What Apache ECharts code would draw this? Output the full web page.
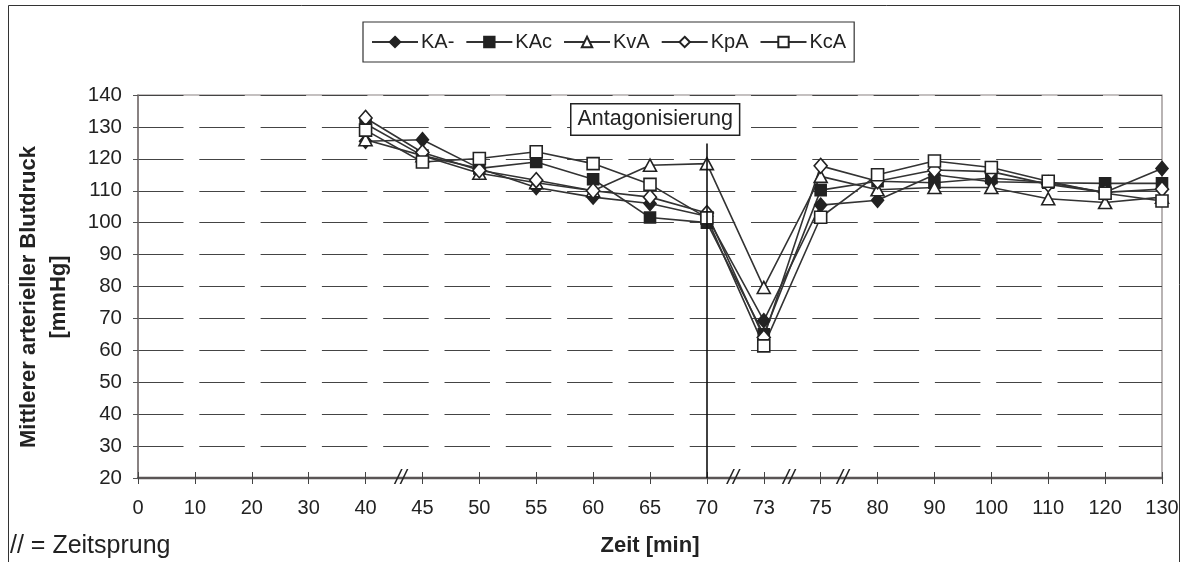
<!DOCTYPE html>
<html><head><meta charset="utf-8">
<script src="https://cdn.jsdelivr.net/npm/echarts@6/dist/echarts.min.js"></script>
<style>html,body{margin:0;padding:0;background:#fff}#c{width:1188px;height:562px}</style>
</head><body><div id="c"></div>
<script>
var categories = ['0','10','20','30','40','45','50','55','60','65','70','73','75','80','90','100','110','120','130'];
var yTicks = {min: 20, max: 140, interval: 10};
var KA_minus = [null,null,null,null,125.5,126,117,111,108,106,102,69.3,105.5,107,115,112.8,112.5,109.5,117];
var KAc      = [null,null,null,null,131,121,117,119,113.6,101.6,100,65,110.2,113,112.5,114,112.5,112.3,112.3];
var KvA      = [null,null,null,null,126,121,115.5,112.5,110,118,118.5,79.7,114.5,110.3,111,111,107.5,106.3,108];
var KpA      = [null,null,null,null,132.8,122,116.4,113.3,110,108,103,64,117.8,113,116.5,116,112,109.5,110.5];
var KcA      = [null,null,null,null,129,119,120.1,122.2,118.5,112,101.5,61.4,101.7,115,119.3,117.3,113,109.2,106.8];
var seriesNames = ['KA-','KAc','KvA','KpA','KcA'];
var breakAfter = [4,10,11,12];          // category index after which a time jump "//" is drawn
var breakFrac  = [0.62,0.46,0.44,0.39];
var markerX = '70';
var yTitle = 'Mittlerer arterieller Blutdruck\n[mmHg]';

var FONT = 'Liberation Sans, Arial, sans-serif';
var INK = '#222';
function ser(name, data, symbol, size, filled) {
  return {
    name: name, type: 'line', data: data, symbol: symbol, symbolSize: size,
    showSymbol: true, connectNulls: false,
    lineStyle: {color: '#333', width: 1.6},
    itemStyle: {color: filled ? INK : '#fff', borderColor: INK, borderWidth: 1.6},
    emphasis: {disabled: true}, animation: false, z: 3
  };
}
var chart = echarts.init(document.getElementById('c'), null, {renderer: 'canvas'});
var s0 = ser('KA-', KA_minus, 'diamond', [12,14], true);
s0.markLine = {
  silent: true, symbol: ['none','none'], animation: false,
  lineStyle: {color: '#111', width: 1.6, type: 'solid'}, label: {show: false},
  data: [[{coord: [markerX, 20]}, {coord: [markerX, 124.8]}]]
};
var option = {
  animation: false,
  backgroundColor: '#fff',
  grid: {left: 138, right: 26, top: 95, bottom: 81, show: true, borderColor: '#8a8282', borderWidth: 1.2, backgroundColor: 'transparent'},
  legend: {
    left: 363, top: 22, data: seriesNames, itemWidth: 46, itemHeight: 13, itemGap: 11,
    padding: [10, 8, 10, 8], borderColor: '#333', borderWidth: 1.2,
    textStyle: {fontFamily: FONT, fontSize: 20, color: INK, padding: [0,0,0,-2]},
    selectedMode: false
  },
  xAxis: [{
    type: 'category', data: categories, boundaryGap: false,
    name: 'Zeit [min]', nameLocation: 'middle', nameGap: 57,
    nameTextStyle: {fontFamily: FONT, fontSize: 22, fontWeight: 'bold', color: INK},
    axisLine: {lineStyle: {color: '#5a5555', width: 2.4}},
    axisTick: {show: true, alignWithLabel: true, length: 6, lineStyle: {color: '#444', width: 1}},
    axisLabel: {fontFamily: FONT, fontSize: 20, color: INK, margin: 20, interval: 0},
    splitLine: {show: false}
  }, {
    type: 'category', data: categories, boundaryGap: false, position: 'bottom',
    axisLine: {show: false}, axisLabel: {show: false},
    axisTick: {show: true, inside: true, length: 6, lineStyle: {color: '#444', width: 1}},
    splitLine: {show: false}
  }],
  yAxis: {
    type: 'value', min: yTicks.min, max: yTicks.max, interval: yTicks.interval,
    axisLine: {show: true, lineStyle: {color: '#7a7272', width: 1.5}},
    axisTick: {show: true, length: 5, lineStyle: {color: '#555'}},
    axisLabel: {fontFamily: FONT, fontSize: 20.5, color: INK, margin: 16},
    splitLine: {show: true, lineStyle: {color: '#444', width: 1, type: [45.5, 15.8], dashOffset: 0}}
  },
  series: [
    s0,
    ser('KAc', KAc, 'rect', 11, true),
    ser('KvA', KvA, 'triangle', [13,12], false),
    ser('KpA', KpA, 'diamond', [13,15], false),
    ser('KcA', KcA, 'rect', 12, false)
  ]
};
chart.setOption(option);

var g = [
  {type: 'rect', shape: {x: 8.5, y: 5.5, width: 1171, height: 570}, style: {fill: 'none', stroke: '#333', lineWidth: 1}, z: -10, silent: true},
  {type: 'text', x: 44, y: 297, rotation: Math.PI / 2, silent: true,
   style: {text: yTitle, font: 'bold 22px ' + FONT, fill: INK, align: 'center', verticalAlign: 'middle', lineHeight: 30}},
  {type: 'text', left: 570, top: 103, z: 20, silent: true,
   style: {text: 'Antagonisierung', font: '21.5px ' + FONT, fill: INK, backgroundColor: '#fff', borderColor: '#222', borderWidth: 1.5, padding: [4, 6, 4, 6]}},
  {type: 'text', left: 10, top: 534, silent: true,
   style: {text: '// = Zeitsprung', font: '25px ' + FONT, fill: INK}}
];
for (var i = 0; i < breakAfter.length; i++) {
  var a = chart.convertToPixel({xAxisIndex: 0}, categories[breakAfter[i]]);
  var b = chart.convertToPixel({xAxisIndex: 0}, categories[breakAfter[i] + 1]);
  var yy = chart.convertToPixel({yAxisIndex: 0}, yTicks.min);
  var px = a + (b - a) * breakFrac[i];
  g.push({type: 'text', x: px, y: yy, z: 30, silent: true,
    style: {text: '//', font: 'italic 21px ' + FONT, fill: '#222', align: 'center', verticalAlign: 'middle'}});
}
chart.setOption({graphic: g});
</script></body></html>
